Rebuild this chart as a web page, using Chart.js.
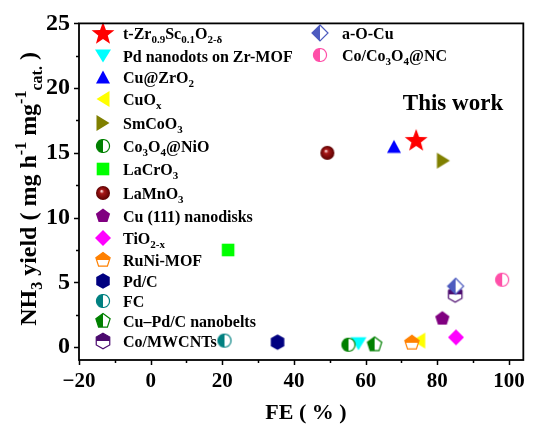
<!DOCTYPE html>
<html>
<head>
<meta charset="utf-8">
<script src="https://cdn.jsdelivr.net/npm/chart.js@4.4.1/dist/chart.umd.min.js"></script>
<style>
  html, body { margin: 0; padding: 0; background: #ffffff; }
  canvas { display: block; }
</style>
</head>
<body>
<canvas id="chart" width="534" height="425"></canvas>
<script>
// Catalysts compared for electrochemical NH3 synthesis (_{..} = subscript, ^{..} = superscript)
const catalysts = [
  't-Zr_{0.9}Sc_{0.1}O_{2-δ}', 'Pd nanodots on Zr-MOF', 'Cu@ZrO_{2}', 'CuO_{x}', 'SmCoO_{3}',
  'Co_{3}O_{4}@NiO', 'LaCrO_{3}', 'LaMnO_{3}', 'Cu (111) nanodisks', 'TiO_{2-x}',
  'RuNi-MOF', 'Pd/C', 'FC', 'Cu–Pd/C nanobelts', 'Co/MWCNTs', 'a-O-Cu', 'Co/Co_{3}O_{4}@NC'
];
// Faradaic efficiency (%)
const faradaicEfficiency = [74.1, 58.0, 67.9, 74.8, 81.7, 55.2, 21.6, 49.3, 81.4, 85.2, 72.9, 35.4, 20.6, 62.5, 85.0, 85.1, 98.1];
// NH3 yield (mg h-1 mg-1 cat.)
const nh3Yield = [16.0, 0.26, 15.5, 0.5, 14.4, 0.18, 7.5, 15.0, 2.2, 0.75, 0.33, 0.38, 0.5, 0.2, 4.07, 4.7, 5.2];
const markerShapes = [
  'star', 'triDown', 'triUp', 'triLeft', 'triRight', 'halfCircle', 'square', 'sphere', 'pentagon',
  'diamond', 'halfPentagonTop', 'hexagon', 'halfCircle', 'halfPentagonLeft', 'halfHexagonTop',
  'halfDiamond', 'halfCircle'
];
const markerColors = [
  '#ff0000', '#00ffff', '#0000ff', '#ffff00', '#808000', '#008000', '#00ff00', '#8b0000', '#800080',
  '#ff00ff', '#ff8000', '#000080', '#008080', '#008000', '#4b0a6e', '#4d5bbf', '#ff4fa8'
];
const xTickValues = [-20, 0, 20, 40, 60, 80, 100];
const yTickValues = [0, 5, 10, 15, 20, 25];

const SERIF = "'Liberation Serif', 'Times New Roman', serif";

// ---------- rich text (sub/superscripts) ----------
function parseRich(str) {
  const segs = [];
  const re = /([_^])\{([^}]*)\}/g;
  let last = 0, m;
  while ((m = re.exec(str)) !== null) {
    if (m.index > last) segs.push({ t: str.slice(last, m.index), mode: '' });
    segs.push({ t: m[2], mode: m[1] === '_' ? 'sub' : 'sup' });
    last = re.lastIndex;
  }
  if (last < str.length) segs.push({ t: str.slice(last), mode: '' });
  return segs;
}
function segFont(size, mode) {
  return 'bold ' + (mode ? Math.round(size * 0.66) : size) + 'px ' + SERIF;
}
function richWidth(ctx, segs, size) {
  let w = 0;
  segs.forEach(s => { ctx.font = segFont(size, s.mode); w += ctx.measureText(s.t).width; });
  return w;
}
function drawRich(ctx, segs, x, y, size) {
  ctx.textAlign = 'left';
  ctx.textBaseline = 'alphabetic';
  segs.forEach(s => {
    ctx.font = segFont(size, s.mode);
    const dy = s.mode === 'sub' ? size * 0.26 : s.mode === 'sup' ? -size * 0.42 : 0;
    ctx.fillText(s.t, x, y + dy);
    x += ctx.measureText(s.t).width;
  });
}

// ---------- marker glyphs ----------
function makeMarker(shape, color) {
  const S = 30, c = S / 2;
  const cv = document.createElement('canvas');
  cv.width = S; cv.height = S;
  const g = cv.getContext('2d');
  const path = pts => {
    g.beginPath();
    pts.forEach((p, i) => (i ? g.lineTo(p[0], p[1]) : g.moveTo(p[0], p[1])));
    g.closePath();
  };
  const regular = (n, r, rot) => Array.from({ length: n }, (_, k) => {
    const a = rot + k * 2 * Math.PI / n;
    return [c + r * Math.cos(a), c + r * Math.sin(a)];
  });
  const half = (pts, side) => {
    path(pts);
    g.fillStyle = '#ffffff';
    g.fill();
    g.save();
    g.beginPath();
    if (side === 'left') g.rect(0, 0, c, S); else g.rect(0, 0, S, c);
    g.clip();
    path(pts);
    g.fillStyle = color;
    g.fill();
    g.restore();
    path(pts);
    g.strokeStyle = color;
    g.lineWidth = 1.2;
    g.stroke();
  };
  const circlePts = r => Array.from({ length: 48 }, (_, k) => {
    const a = k * 2 * Math.PI / 48;
    return [c + r * Math.cos(a), c + r * Math.sin(a)];
  });
  g.fillStyle = color;
  switch (shape) {
    case 'star': {
      const pts = [];
      for (let k = 0; k < 10; k++) {
        const r = k % 2 ? 5 : 12;
        const a = -Math.PI / 2 + k * Math.PI / 5;
        pts.push([c + r * Math.cos(a), c + 1 + r * Math.sin(a)]);
      }
      path(pts); g.fill();
      break;
    }
    case 'triDown': path([[c - 8, c - 6.5], [c + 8, c - 6.5], [c, c + 6.5]]); g.fill(); break;
    case 'triUp': path([[c - 7, c + 6.5], [c + 7, c + 6.5], [c, c - 6.5]]); g.fill(); break;
    case 'triLeft': path([[c - 6.5, c], [c + 6.5, c - 8], [c + 6.5, c + 8]]); g.fill(); break;
    case 'triRight': path([[c + 6.5, c], [c - 6.5, c - 8], [c - 6.5, c + 8]]); g.fill(); break;
    case 'square': g.fillRect(c - 6.3, c - 6.3, 12.6, 12.6); break;
    case 'pentagon': path(regular(5, 7.5, -Math.PI / 2)); g.fill(); break;
    case 'hexagon': path(regular(6, 7.8, -Math.PI / 2)); g.fill(); break;
    case 'diamond': path(regular(4, 8, -Math.PI / 2)); g.fill(); break;
    case 'sphere': {
      const grd = g.createRadialGradient(c - 1.5, c - 2, 0.3, c, c, 7);
      grd.addColorStop(0, '#ffe0e0');
      grd.addColorStop(0.28, '#a81818');
      grd.addColorStop(1, '#5a0000');
      g.fillStyle = grd;
      g.beginPath(); g.arc(c, c, 7, 0, Math.PI * 2); g.fill();
      break;
    }
    case 'halfCircle': half(circlePts(6.5), 'left'); break;
    case 'halfPentagonTop': half(regular(5, 7.5, -Math.PI / 2), 'top'); break;
    case 'halfPentagonLeft': half(regular(5, 7.5, -Math.PI / 2), 'left'); break;
    case 'halfHexagonTop': half(regular(6, 7.8, -Math.PI / 2), 'top'); break;
    case 'halfDiamond': half(regular(4, 8, -Math.PI / 2), 'left'); break;
  }
  return cv;
}
const markerImages = markerShapes.map((s, i) => makeMarker(s, markerColors[i]));

// ---------- frame, ticks, titles, legend ----------
const framePlugin = {
  id: 'frame',
  beforeDatasetsDraw(chart) {
    const ctx = chart.ctx;
    ctx.save();
    ctx.fillStyle = '#000000';
    const leftRows = [33, 56, 77, 99, 123, 146, 169, 193, 216, 238, 260, 281, 301, 321, 341];
    const rightRows = [33, 55];
    catalysts.forEach((name, i) => {
      let mx, tx, y;
      if (i < 15) { mx = 103; tx = 123; y = leftRows[i]; }
      else { mx = 320; tx = 342; y = rightRows[i - 15]; }
      const img = markerImages[i];
      ctx.drawImage(img, mx - img.width / 2, y - img.height / 2);
      drawRich(ctx, parseRich(name), tx, y + 5.5, 16);
    });
    ctx.restore();
  },
  afterDraw(chart) {
    const ctx = chart.ctx;
    const a = chart.chartArea;
    const xs = chart.scales.x, ys = chart.scales.y;
    ctx.save();
    ctx.strokeStyle = '#000000';
    ctx.lineWidth = 1.8;
    ctx.strokeRect(a.left, a.top, a.right - a.left, a.bottom - a.top);
    ctx.lineWidth = 1.5;
    ctx.beginPath();
    for (let v = -20; v <= 100; v += 10) {
      const px = Math.round(xs.getPixelForValue(v)) + 0.5;
      const len = v % 20 === 0 ? 5 : 3;
      ctx.moveTo(px, a.bottom); ctx.lineTo(px, a.bottom + len);
    }
    for (let v = 0; v <= 25; v += 2.5) {
      const py = Math.round(ys.getPixelForValue(v)) + 0.5;
      const len = v % 5 === 0 ? 5 : 3;
      ctx.moveTo(a.left, py); ctx.lineTo(a.left - len, py);
    }
    ctx.stroke();

    ctx.fillStyle = '#000000';
    // x title
    ctx.font = 'bold 22px ' + SERIF;
    ctx.textAlign = 'center';
    ctx.textBaseline = 'alphabetic';
    ctx.fillText('FE ( % )', 306, 419);
    // y title
    const ySegs = parseRich('NH_{3} yield ( mg h^{-1} mg^{-1}_{cat.} )');
    const w = richWidth(ctx, ySegs, 24);
    ctx.translate(28, 189);
    ctx.rotate(-Math.PI / 2);
    drawRich(ctx, ySegs, -w / 2, 8, 24);
    ctx.restore();

    // annotation
    ctx.save();
    ctx.fillStyle = '#000000';
    ctx.font = 'bold 23px ' + SERIF;
    ctx.textAlign = 'center';
    ctx.textBaseline = 'middle';
    ctx.fillText('This work', 453, 104);
    ctx.restore();
  }
};

new Chart(document.getElementById('chart'), {
  type: 'scatter',
  data: {
    datasets: catalysts.map((name, i) => ({
      label: name,
      data: [{ x: faradaicEfficiency[i], y: nh3Yield[i] }],
      pointStyle: markerImages[i],
      pointRadius: 7,
      pointHoverRadius: 7,
      order: catalysts.length - i
    }))
  },
  options: {
    responsive: false,
    animation: false,
    devicePixelRatio: 1,
    layout: { padding: { top: 19, right: 6, left: 0, bottom: 0 } },
    plugins: { legend: { display: false }, tooltip: { enabled: false } },
    scales: {
      x: {
        type: 'linear',
        min: -20,
        max: 104,
        afterBuildTicks: s => { s.ticks = xTickValues.map(v => ({ value: v })); },
        afterFit: s => { s.height = 65; },
        grid: { display: false, drawTicks: false },
        border: { display: false },
        ticks: {
          padding: 9,
          color: '#000000',
          font: { family: SERIF, size: 21, weight: 'bold' },
          callback: v => (v < 0 ? '\u2212' + Math.abs(v) : String(v))
        }
      },
      y: {
        type: 'linear',
        min: -1,
        max: 25,
        afterBuildTicks: s => { s.ticks = yTickValues.map(v => ({ value: v })); },
        afterFit: s => { s.width = 79; },
        grid: { display: false, drawTicks: false },
        border: { display: false },
        ticks: {
          padding: 9,
          color: '#000000',
          font: { family: SERIF, size: 24, weight: 'bold' },
          callback: v => String(v)
        }
      }
    }
  },
  plugins: [framePlugin]
});
</script>
</body>
</html>
